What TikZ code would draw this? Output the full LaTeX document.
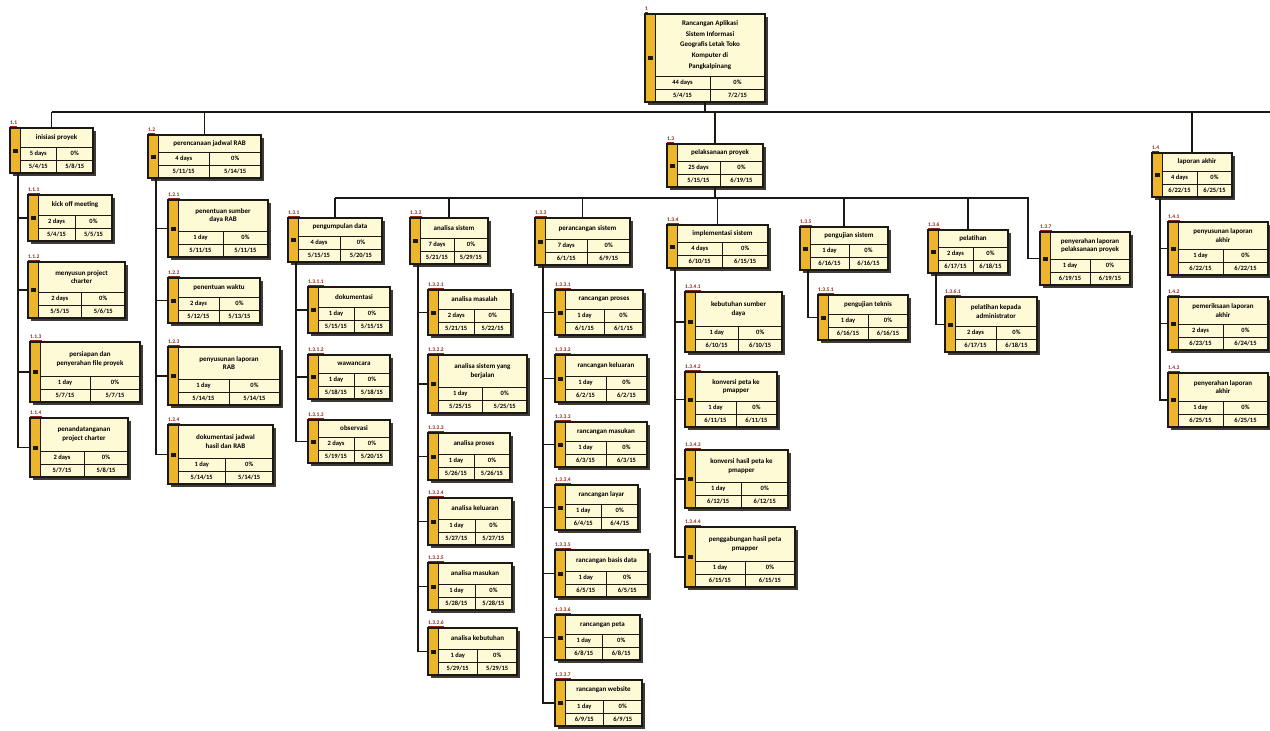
\documentclass[tikz,border=0pt]{standalone}
\usepackage{fontspec}
\setmainfont{Carlito}
\definecolor{wbsink}{RGB}{28, 24, 20}
\definecolor{wbscream}{RGB}{255, 250, 214}
\definecolor{wbsgold}{RGB}{236, 182, 44}
\definecolor{wbsred}{RGB}{140, 40, 25}
\usetikzlibrary{calc}

\tikzset{
  wbsframe/.style={draw=wbsink, line width=1.3pt, fill=wbscream, inner sep=0pt, outer sep=0pt},
  wbsrule/.style={draw=wbsink, line width=0.9pt},
  wbstitle/.style={align=center, inner sep=0pt, font=\fontsize{7}{8.8}\selectfont\bfseries},
  wbscell/.style={inner sep=0pt, font=\fontsize{6.5}{7}\selectfont\bfseries},
  wbsnum/.style={anchor=south west, inner sep=0pt, text=wbsred, font=\fontsize{5.5}{6}\selectfont\bfseries},
  wbsline/.style={draw=wbsink, line width=1.6pt},
}

\newcommand{\wbsfirst}[2]{#1}
\newcommand{\wbssecond}[2]{#2}
% name, x, y, width, height, number, title, {duration}{done}, {start}{finish}
\newcommand{\wbsbox}[9]{%
  \fill[wbsink!85] (#2+2.5,#3+2.5) rectangle (#2+#4+2.5,#3+#5+2.5);
  \node[wbsframe, minimum width=#4pt, minimum height=#5pt, anchor=north west] (#1) at (#2,#3) {};
  \fill[wbsgold] (#2+0.6,#3+0.6) rectangle (#2+10,#3+#5-0.6);
  \draw[wbsrule] (#2+10,#3) -- (#2+10,#3+#5);
  \fill[wbsink] (#2+2.5,#3+#5/2-2) rectangle (#2+7.5,#3+#5/2+2);
  \draw[wbsrule] (#2+10,#3+#5-26) -- (#2+#4,#3+#5-26)
                 (#2+10,#3+#5-13) -- (#2+#4,#3+#5-13)
                 (#2+#4/2+5,#3+#5-26) -- (#2+#4/2+5,#3+#5);
  \node[wbstitle] (#1-t) at (#2+#4/2+5,#3+#5/2-13) {#7};
  \node[wbscell] (#1-d) at (#2+#4/4+7.5,#3+#5-19.5) {\wbsfirst#8};
  \node[wbscell] (#1-p) at (#2+3*#4/4+2.5,#3+#5-19.5) {\wbssecond#8};
  \node[wbscell] (#1-s) at (#2+#4/4+7.5,#3+#5-6.5) {\wbsfirst#9};
  \node[wbscell] (#1-f) at (#2+3*#4/4+2.5,#3+#5-6.5) {\wbssecond#9};
  \node[wbsnum] (#1-n) at (#2,#3-1.5) {\underline{#6}};
}

\begin{document}
\begin{tikzpicture}[x=1pt, y=-1pt]
  \useasboundingbox (0,0) rectangle (1270,731);
  \clip (0,0) rectangle (1270,731);
  \fill[white] (0,0) rectangle (1270,731);

  % Project
  \wbsbox{root}{645}{14}{120}{88}{1}{Rancangan Aplikasi\\[2pt]Sistem Informasi\\[2pt]Geografis Letak Toko\\[2pt]Komputer di\\[2pt]Pangkalpinang}{{44 days}{0\%}}{{5/4/15}{7/2/15}}

  % Level 1
  \wbsbox{p11}{10}{128}{83}{45}{1.1}{inisiasi proyek}{{5 days}{0\%}}{{5/4/15}{5/8/15}}
  \wbsbox{p12}{148}{135}{113}{43}{1.2}{perencanaan jadwal RAB}{{4 days}{0\%}}{{5/11/15}{5/14/15}}
  \wbsbox{p13}{667}{144}{96}{43}{1.3}{pelaksanaan proyek}{{25 days}{0\%}}{{5/15/15}{6/19/15}}
  \wbsbox{p14}{1152}{153}{80}{44}{1.4}{laporan akhir}{{4 days}{0\%}}{{6/22/15}{6/25/15}}

  % Inisiasi
  \wbsbox{p111}{28}{195}{84}{46}{1.1.1}{kick off meeting}{{2 days}{0\%}}{{5/4/15}{5/5/15}}
  \wbsbox{p112}{28}{262}{97}{56}{1.1.2}{menyusun project\\charter}{{2 days}{0\%}}{{5/5/15}{5/6/15}}
  \wbsbox{p113}{30}{342}{110}{60}{1.1.3}{persiapan dan\\penyerahan file proyek}{{1 day}{0\%}}{{5/7/15}{5/7/15}}
  \wbsbox{p114}{30}{418}{98}{59}{1.1.4}{penandatanganan\\project charter}{{2 days}{0\%}}{{5/7/15}{5/8/15}}

  % Perencanaan
  \wbsbox{p121}{168}{200}{100}{57}{1.2.1}{penentuan sumber\\daya RAB}{{1 day}{0\%}}{{5/11/15}{5/11/15}}
  \wbsbox{p122}{168}{278}{92}{45}{1.2.2}{penentuan waktu}{{2 days}{0\%}}{{5/12/15}{5/13/15}}
  \wbsbox{p123}{168}{347}{112}{58}{1.2.3}{penyusunan laporan\\RAB}{{1 day}{0\%}}{{5/14/15}{5/14/15}}
  \wbsbox{p124}{168}{425}{105}{59}{1.2.4}{dokumentasi jadwal\\hasil dan RAB}{{1 day}{0\%}}{{5/14/15}{5/14/15}}

  % Pelaksanaan
  \wbsbox{p131}{288}{218}{94}{44}{1.3.1}{pengumpulan data}{{4 days}{0\%}}{{5/15/15}{5/20/15}}
  \wbsbox{p132}{410}{218}{78}{46}{1.3.2}{analisa sistem}{{7 days}{0\%}}{{5/21/15}{5/29/15}}
  \wbsbox{p133}{535}{218}{95}{47}{1.3.3}{perancangan sistem}{{7 days}{0\%}}{{6/1/15}{6/9/15}}
  \wbsbox{p134}{667}{225}{101}{43}{1.3.4}{implementasi sistem}{{4 days}{0\%}}{{6/10/15}{6/15/15}}
  \wbsbox{p135}{800}{227}{88}{43}{1.3.5}{pengujian sistem}{{1 day}{0\%}}{{6/16/15}{6/16/15}}
  \wbsbox{p136}{928}{230}{80}{43}{1.3.6}{pelatihan}{{2 days}{0\%}}{{6/17/15}{6/18/15}}
  \wbsbox{p137}{1040}{232}{90}{53}{1.3.7}{penyerahan laporan\\pelaksanaan proyek}{{1 day}{0\%}}{{6/19/15}{6/19/15}}

  \wbsbox{p1311}{308}{287}{82}{46}{1.3.1.1}{dokumentasi}{{1 day}{0\%}}{{5/15/15}{5/15/15}}
  \wbsbox{p1312}{308}{355}{82}{44}{1.3.1.2}{wawancara}{{1 day}{0\%}}{{5/18/15}{5/18/15}}
  \wbsbox{p1313}{308}{420}{82}{43}{1.3.1.3}{observasi}{{2 days}{0\%}}{{5/19/15}{5/20/15}}

  \wbsbox{p1321}{428}{290}{83}{45}{1.3.2.1}{analisa masalah}{{2 days}{0\%}}{{5/21/15}{5/22/15}}
  \wbsbox{p1322}{428}{355}{99}{58}{1.3.2.2}{analisa sistem yang\\berjalan}{{1 day}{0\%}}{{5/25/15}{5/25/15}}
  \wbsbox{p1323}{428}{433}{82}{47}{1.3.2.3}{analisa proses}{{1 day}{0\%}}{{5/26/15}{5/26/15}}
  \wbsbox{p1324}{428}{498}{84}{47}{1.3.2.4}{analisa keluaran}{{1 day}{0\%}}{{5/27/15}{5/27/15}}
  \wbsbox{p1325}{428}{563}{84}{47}{1.3.2.5}{analisa masukan}{{1 day}{0\%}}{{5/28/15}{5/28/15}}
  \wbsbox{p1326}{428}{628}{89}{47}{1.3.2.6}{analisa kebutuhan}{{1 day}{0\%}}{{5/29/15}{5/29/15}}

  \wbsbox{p1331}{555}{290}{88}{45}{1.3.3.1}{rancangan proses}{{1 day}{0\%}}{{6/1/15}{6/1/15}}
  \wbsbox{p1332}{555}{355}{92}{47}{1.3.3.2}{rancangan keluaran}{{1 day}{0\%}}{{6/2/15}{6/2/15}}
  \wbsbox{p1333}{555}{422}{92}{45}{1.3.3.3}{rancangan masukan}{{1 day}{0\%}}{{6/3/15}{6/3/15}}
  \wbsbox{p1334}{555}{485}{83}{45}{1.3.3.4}{rancangan layar}{{1 day}{0\%}}{{6/4/15}{6/4/15}}
  \wbsbox{p1335}{555}{550}{93}{47}{1.3.3.5}{rancangan basis data}{{1 day}{0\%}}{{6/5/15}{6/5/15}}
  \wbsbox{p1336}{555}{615}{85}{45}{1.3.3.6}{rancangan peta}{{1 day}{0\%}}{{6/8/15}{6/8/15}}
  \wbsbox{p1337}{555}{680}{87}{46}{1.3.3.7}{rancangan website}{{1 day}{0\%}}{{6/9/15}{6/9/15}}

  \wbsbox{p1341}{685}{292}{97}{60}{1.3.4.1}{kebutuhan sumber\\daya}{{1 day}{0\%}}{{6/10/15}{6/10/15}}
  \wbsbox{p1342}{685}{372}{92}{55}{1.3.4.2}{konversi peta ke\\pmapper}{{1 day}{0\%}}{{6/11/15}{6/11/15}}
  \wbsbox{p1343}{685}{450}{103}{58}{1.3.4.3}{konversi hasil peta ke\\pmapper}{{1 day}{0\%}}{{6/12/15}{6/12/15}}
  \wbsbox{p1344}{685}{527}{110}{60}{1.3.4.4}{penggabungan hasil peta\\pmapper}{{1 day}{0\%}}{{6/15/15}{6/15/15}}

  \wbsbox{p1351}{818}{295}{90}{45}{1.3.5.1}{pengujian teknis}{{1 day}{0\%}}{{6/16/15}{6/16/15}}
  \wbsbox{p1361}{945}{297}{92}{55}{1.3.6.1}{pelatihan kepada\\administrator}{{2 days}{0\%}}{{6/17/15}{6/18/15}}

  % Laporan akhir
  \wbsbox{p141}{1168}{222}{100}{53}{1.4.1}{penyusunan laporan\\akhir}{{1 day}{0\%}}{{6/22/15}{6/22/15}}
  \wbsbox{p142}{1168}{297}{100}{53}{1.4.2}{pemeriksaan laporan\\akhir}{{2 days}{0\%}}{{6/23/15}{6/24/15}}
  \wbsbox{p143}{1168}{373}{100}{54}{1.4.3}{penyerahan laporan\\akhir}{{1 day}{0\%}}{{6/25/15}{6/25/15}}

  % Main bus
  \coordinate (bus) at (0,112);
  \coordinate (busend) at (1270,112);
  \draw[wbsline] (root.south) -- (root.south |- bus);
  \draw[wbsline] (p11.north |- bus) -- (busend);
  \foreach \n in {p11,p12,p13,p14}
    \draw[wbsline] (\n.north) -- (\n.north |- bus);

  % Pelaksanaan bus
  \coordinate (bus13) at (0,198);
  \coordinate (bus13end) at (1028,198);
  \draw[wbsline] (p13.south) -- (p13.south |- bus13);
  \draw[wbsline] (p131.north |- bus13) -- (bus13end) |- (p137.west);
  \foreach \n in {p131,p132,p133,p134,p135,p136}
    \draw[wbsline] (\n.north) -- (\n.north |- bus13);

  % Children
  \foreach \p/\kids in {p11/{p111,p112,p113,p114}, p12/{p121,p122,p123,p124},
      p131/{p1311,p1312,p1313}, p132/{p1321,p1322,p1323,p1324,p1325,p1326},
      p133/{p1331,p1332,p1333,p1334,p1335,p1336,p1337}, p134/{p1341,p1342,p1343,p1344},
      p135/{p1351}, p136/{p1361}, p14/{p141,p142,p143}}
    \foreach \k in \kids
      \draw[wbsline] ([xshift=8pt]\p.south west) |- (\k.west);
\end{tikzpicture}
\end{document}
